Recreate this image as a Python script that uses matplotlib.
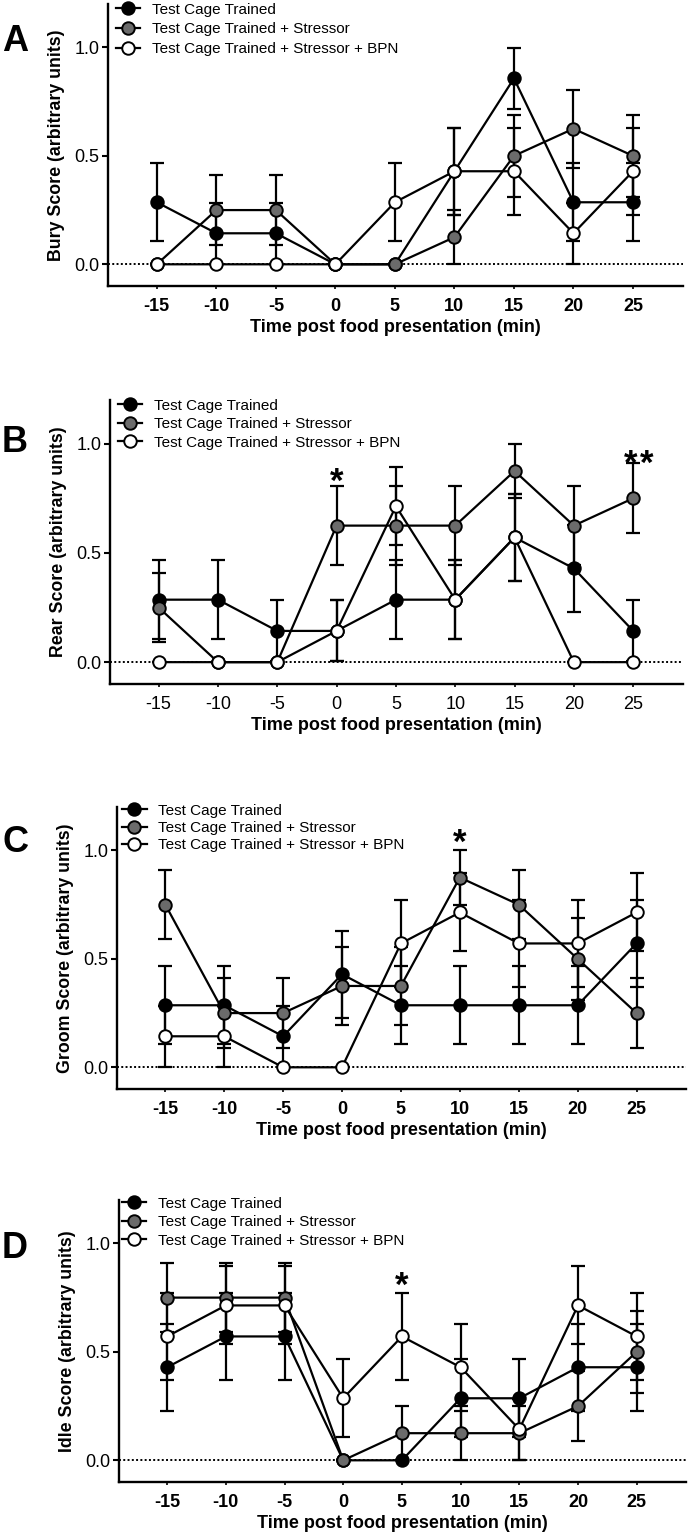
import matplotlib
matplotlib.use("Agg")
from matplotlib import pyplot as plt

plt.rcParams['font.family'] = ['Liberation Sans', 'DejaVu Sans']

time = [-15, -10, -5, 0, 5, 10, 15, 20, 25]
groups = ['Test Cage Trained', 'Test Cage Trained + Stressor',
          'Test Cage Trained + Stressor + BPN']
fills = ['black', '#6b6b6b', 'white']

# A - bury
bury_tct = [0.286, 0.143, 0.143, 0, 0, 0.429, 0.857, 0.286, 0.286]
bury_tct_sem = [0.18, 0.14, 0.14, 0, 0, 0.20, 0.14, 0.18, 0.18]
bury_str = [0, 0.25, 0.25, 0, 0, 0.125, 0.5, 0.625, 0.5]
bury_str_sem = [0, 0.16, 0.16, 0, 0, 0.125, 0.19, 0.18, 0.19]
bury_bpn = [0, 0, 0, 0, 0.286, 0.429, 0.429, 0.143, 0.429]
bury_bpn_sem = [0, 0, 0, 0, 0.18, 0.20, 0.20, 0.14, 0.20]

# B - rear
rear_tct = [0.286, 0.286, 0.143, 0.143, 0.286, 0.286, 0.571, 0.429, 0.143]
rear_tct_sem = [0.18, 0.18, 0.14, 0.14, 0.18, 0.18, 0.20, 0.20, 0.14]
rear_str = [0.25, 0, 0, 0.625, 0.625, 0.625, 0.875, 0.625, 0.75]
rear_str_sem = [0.16, 0, 0, 0.18, 0.18, 0.18, 0.125, 0.18, 0.16]
rear_bpn = [0, 0, 0, 0.143, 0.714, 0.286, 0.571, 0, 0]
rear_bpn_sem = [0, 0, 0, 0.14, 0.18, 0.18, 0.20, 0, 0]

# C - groom
groom_tct = [0.286, 0.286, 0.143, 0.429, 0.286, 0.286, 0.286, 0.286, 0.571]
groom_tct_sem = [0.18, 0.18, 0.14, 0.20, 0.18, 0.18, 0.18, 0.18, 0.20]
groom_str = [0.75, 0.25, 0.25, 0.375, 0.375, 0.875, 0.75, 0.5, 0.25]
groom_str_sem = [0.16, 0.16, 0.16, 0.18, 0.18, 0.125, 0.16, 0.19, 0.16]
groom_bpn = [0.143, 0.143, 0, 0, 0.571, 0.714, 0.571, 0.571, 0.714]
groom_bpn_sem = [0.14, 0.14, 0, 0, 0.20, 0.18, 0.20, 0.20, 0.18]

# D - idle
idle_tct = [0.429, 0.571, 0.571, 0, 0, 0.286, 0.286, 0.429, 0.429]
idle_tct_sem = [0.20, 0.20, 0.20, 0, 0, 0.18, 0.18, 0.20, 0.20]
idle_str = [0.75, 0.75, 0.75, 0, 0.125, 0.125, 0.125, 0.25, 0.5]
idle_str_sem = [0.16, 0.16, 0.16, 0, 0.125, 0.125, 0.125, 0.16, 0.19]
idle_bpn = [0.571, 0.714, 0.714, 0.286, 0.571, 0.429, 0.143, 0.714, 0.571]
idle_bpn_sem = [0.20, 0.18, 0.18, 0.18, 0.20, 0.20, 0.14, 0.18, 0.20]

W, H = 688, 1536
fig = plt.figure(figsize=(W / 100, H / 100), dpi=100)


def box(l, r, t, b):
    return [l / W, 1 - b / H, (r - l) / W, (b - t) / H]


def star(ax, x, y):
    ax.text(x, y, '*', fontsize=25, fontweight='bold', ha='center', va='baseline')


def panel(pos, means, sems, ylab, letter, letter_y, bold_ticks, leg_y, leg_x, spacing):
    ax = fig.add_axes(box(*pos))
    ax.axhline(0, color='k', ls=(0, (1, 1.2)), lw=1.4, zorder=1)
    handles = []
    for i in range(3):
        ax.errorbar(time, means[i], yerr=sems[i], fmt='none', ecolor='k',
                    elinewidth=1.6, capsize=5, capthick=1.6, zorder=2)
        ln, = ax.plot(time, means[i], '-', color='k', lw=1.6, marker='o',
                      ms=9, mfc=fills[i], mec='k', mew=1.4, zorder=3 + i)
        handles.append(ln)
    ax.set_xlim(-19.1, 29.2)
    ax.set_ylim(-0.1, 1.2)
    ax.set_xticks(time)
    ax.set_yticks([0, 0.5, 1.0])
    ax.set_yticklabels(['0.0', '0.5', '1.0'], fontsize=13)
    ax.set_xticklabels([str(t) for t in time], fontsize=13,
                       fontweight='bold' if bold_ticks else 'normal')
    for s in ['top', 'right']:
        ax.spines[s].set_visible(False)
    for s in ['left', 'bottom']:
        ax.spines[s].set_linewidth(1.7)
    ax.tick_params(axis='y', length=4, width=1.5, pad=2)
    ax.tick_params(axis='x', length=2.5, width=1.2, pad=6)
    ax.set_ylabel(ylab, fontsize=12.8, fontweight='bold', labelpad=7)
    ax.set_xlabel('Time post food presentation (min)', fontsize=13,
                  fontweight='bold', labelpad=3)
    ax.legend(handles, groups, loc='upper left', bbox_to_anchor=(leg_x, leg_y),
              frameon=False, fontsize=11, handlelength=1.6,
              handletextpad=0.75, labelspacing=spacing, borderpad=0,
              borderaxespad=0)
    fig.text(15 / W, 1 - letter_y / H, letter, fontsize=26, fontweight='bold',
             ha='center', va='baseline')
    return ax


axA = panel((108, 683, 4, 286), [bury_tct, bury_str, bury_bpn],
            [bury_tct_sem, bury_str_sem, bury_bpn_sem],
            'Bury Score (arbitrary units)', 'A', 51, True, 1.005, 0.014, 0.38)

axB = panel((110, 683, 400, 684), [rear_tct, rear_str, rear_bpn],
            [rear_tct_sem, rear_str_sem, rear_bpn_sem],
            'Rear Score (arbitrary units)', 'B', 452, False, 1.005, 0.014, 0.3)
star(axB, 0, 0.78)
star(axB, 24.75, 0.86)
star(axB, 26.1, 0.86)

axC = panel((117, 686, 807, 1089), [groom_tct, groom_str, groom_bpn],
            [groom_tct_sem, groom_str_sem, groom_bpn_sem],
            'Groom Score (arbitrary units)', 'C', 852, True, 1.012, 0.009, 0.22)
star(axC, 10, 0.99)

axD = panel((119, 686, 1200, 1482), [idle_tct, idle_str, idle_bpn],
            [idle_tct_sem, idle_str_sem, idle_bpn_sem],
            'Idle Score (arbitrary units)', 'D', 1258, True, 1.012, 0.005, 0.3)
star(axD, 5, 0.76)

fig.savefig('out.png', dpi=100)
